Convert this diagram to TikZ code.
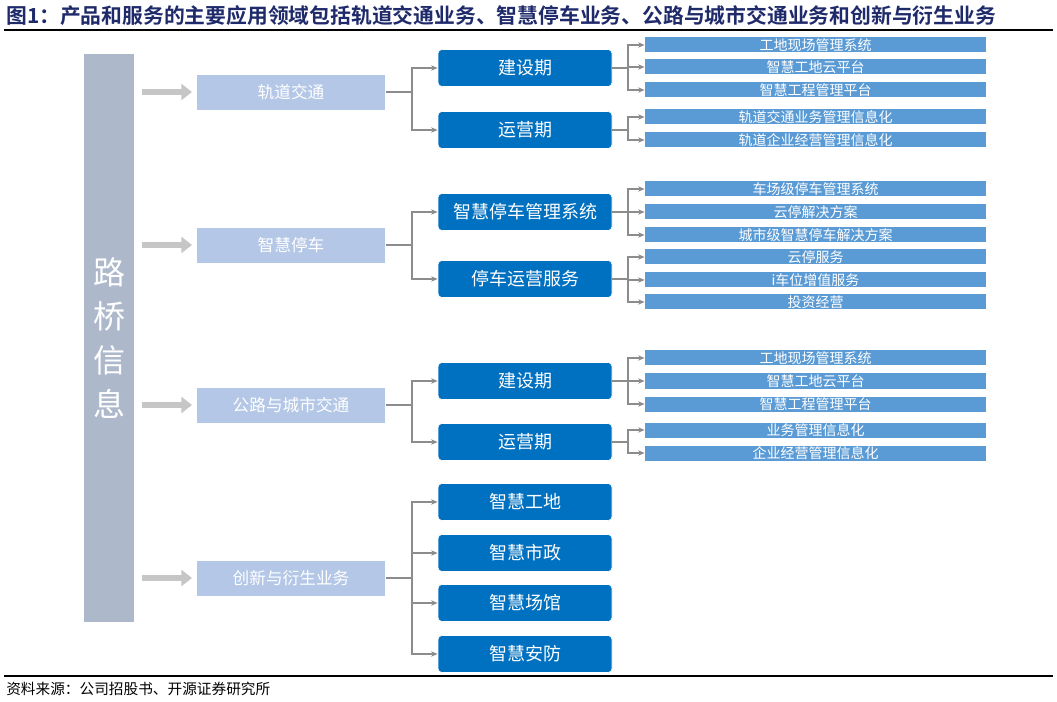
\documentclass[tikz,border=0pt]{standalone}
\usepackage{fontspec}
\setmainfont{Liberation Serif}
\newfontfamily\cjk{Noto Sans CJK SC}
\newfontfamily\cjkb{Noto Sans CJK SC Bold}
\usetikzlibrary{arrows.meta}
\definecolor{titlec}{HTML}{1F2A6B}
\definecolor{barc}{HTML}{ADB9CA}
\definecolor{lone}{HTML}{B4C7E7}
\definecolor{ltwo}{HTML}{0070C0}
\definecolor{lthree}{HTML}{5B9BD5}
\tikzset{
 x=0.75pt,y=-0.75pt,
 lA/.style={fill=lone,draw=white,minimum width=189*0.75pt,minimum height=36*0.75pt,text=white,font=\cjk\fontsize{12.5}{12}\selectfont,inner sep=0pt},
 lB/.style={fill=ltwo,draw=white,rounded corners=3pt,minimum width=174*0.75pt,minimum height=37*0.75pt,text=white,font=\cjk\fontsize{13.5}{12}\selectfont,inner sep=0pt},
 lC/.style={fill=lthree,minimum width=341*0.75pt,minimum height=15*0.75pt,text=white,font=\cjk\fontsize{10.5}{10}\selectfont,inner sep=0pt},
 con/.style={draw=gray!90,line width=1.2pt,-{Stealth[length=5pt,width=4pt]}},
 bigarrow/.style={draw=gray!45,line width=5pt,-{Triangle[length=8pt,width=12pt]}}
}
\begin{document}
\begin{tikzpicture}
\useasboundingbox (0,0) rectangle (1057,702);
\node[anchor=west,text=titlec,font=\cjkb\fontsize{15.6}{15}\selectfont,inner sep=0pt] (title) at (6,16) {图1：产品和服务的主要应用领域包括轨道交通业务、智慧停车业务、公路与城市交通业务和创新与衍生业务};
\draw[line width=1pt] (4,30) -- (1053,30);
\node[fill=barc,minimum width=50*0.75pt,minimum height=568*0.75pt,inner sep=0pt] (bar) at (109,338) {};
\node[text=white,font=\cjk\fontsize{24}{33}\selectfont,align=center] (bt) at (109,338) {路\\桥\\信\\息};
% level 1
\foreach \n/\y/\t in {a/92/轨道交通,b/245/智慧停车,c/405/公路与城市交通,d/578/创新与衍生业务}{
 \node[lA] (\n) at (291,\y) {\t};
 \coordinate (\n s) at (142,\y);
 \draw[bigarrow] (\n s) -- (192,\y);
}
% level 2
\foreach \n/\y/\t/\p in {a1/68/建设期/a,a2/130/运营期/a,b1/212/智慧停车管理系统/b,b2/279/停车运营服务/b,c1/381/建设期/c,c2/442/运营期/c,d1/502/智慧工地/d,d2/553/智慧市政/d,d3/603/智慧场馆/d,d4/654/智慧安防/d}{
 \node[lB] (\n) at (525,\y) {\t};
 \draw[con] (\p.east) -- (412,\y |- \p.east) |- (\n.west);
}
% level 3
\foreach \n/\y/\t/\p in {
 a11/45/工地现场管理系统/a1,a12/67/智慧工地云平台/a1,a13/90/智慧工程管理平台/a1,
 a21/117/轨道交通业务管理信息化/a2,a22/140/轨道企业经营管理信息化/a2,
 b11/189/车场级停车管理系统/b1,b12/212/云停解决方案/b1,b13/235/城市级智慧停车解决方案/b1,
 b21/257/云停服务/b2,b22/280/i车位增值服务/b2,b23/302/投资经营/b2,
 c11/358/工地现场管理系统/c1,c12/381/智慧工地云平台/c1,c13/404/智慧工程管理平台/c1,
 c21/430/业务管理信息化/c2,c22/453/企业经营管理信息化/c2}{
 \node[lC] (\n) at (815.5,\y) {\t};
 \draw[con] (\p.east) -- (628,\y |- \p.east) |- (\n.west);
}
\draw[line width=0.8pt] (4,676) -- (1053,676);
\node[anchor=west,font=\cjk\fontsize{11}{10}\selectfont,inner sep=0pt] (src) at (6,689) {资料来源：公司招股书、开源证券研究所};
\end{tikzpicture}
\end{document}
